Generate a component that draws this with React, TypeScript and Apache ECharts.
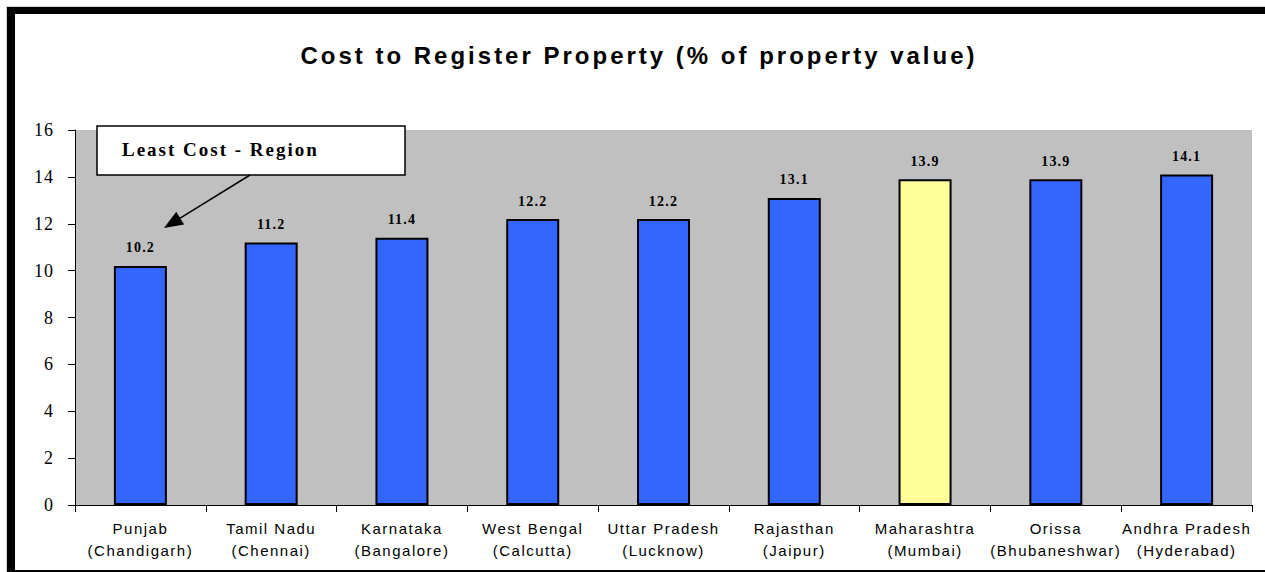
import React, { useEffect, useRef } from "react";
import * as echarts from "echarts";

const states = [
  "Punjab",
  "Tamil Nadu",
  "Karnataka",
  "West Bengal",
  "Uttar Pradesh",
  "Rajasthan",
  "Maharashtra",
  "Orissa",
  "Andhra Pradesh",
];
const cities = [
  "(Chandigarh)",
  "(Chennai)",
  "(Bangalore)",
  "(Calcutta)",
  "(Lucknow)",
  "(Jaipur)",
  "(Mumbai)",
  "(Bhubaneshwar)",
  "(Hyderabad)",
];
const costValues = [10.2, 11.2, 11.4, 12.2, 12.2, 13.1, 13.9, 13.9, 14.1];
const highlighted = ["Maharashtra"];

const TITLE = "Cost to Register Property (% of property value)";
const NOTE = "Least Cost - Region";

const SERIF = "'Liberation Serif', 'Times New Roman', serif";
const SANS = "'Liberation Sans', Arial, sans-serif";

const css = `
#chart-root text[style*="24px"] { letter-spacing: 3px; }
#chart-root text[style*="15px"] { letter-spacing: 1.5px; }
#chart-root text[style*="19px"] { letter-spacing: 2px; }
#chart-root text[style*="18px"] { letter-spacing: 1px; }
#chart-root text[style*="14px"] { letter-spacing: 1.2px; }
`;

export default function App() {
  const ref = useRef<HTMLDivElement>(null);

  useEffect(() => {
    if (!ref.current) return;
    const chart = echarts.init(ref.current, null, { renderer: "svg" });
    const categories = states.map((s, i) => `${s}\n${cities[i]}`);
    const data = costValues.map((v, i) => ({
      value: v,
      itemStyle: {
        color: highlighted.includes(states[i]) ? "#FFFF99" : "#3366FF",
      },
    }));

    // arrow geometry for the annotation
    const from = [250, 175];
    const tip = [164, 228];
    const dx = tip[0] - from[0];
    const dy = tip[1] - from[1];
    const len = Math.sqrt(dx * dx + dy * dy);
    const ux = dx / len;
    const uy = dy / len;
    const headLen = 19;
    const headHalf = 7.5;
    const bx = tip[0] - ux * headLen;
    const by = tip[1] - uy * headLen;
    const px = -uy;
    const py = ux;

    chart.setOption({
      animation: false,
      backgroundColor: "transparent",
      grid: {
        left: 75,
        top: 130,
        right: 13,
        bottom: 67,
        show: true,
        backgroundColor: "#C0C0C0",
        borderWidth: 0,
      },
      xAxis: {
        type: "category",
        data: categories,
        axisLine: { show: true, lineStyle: { color: "#000", width: 1 } },
        axisTick: { show: true, length: 7, lineStyle: { color: "#000" } },
        axisLabel: {
          interval: 0,
          margin: 12,
          color: "#000",
          fontFamily: SANS,
          fontSize: 15,
          lineHeight: 22,
        },
        splitLine: { show: false },
      },
      yAxis: {
        type: "value",
        min: 0,
        max: 16,
        interval: 2,
        axisLine: { show: true, lineStyle: { color: "#000", width: 1 } },
        axisTick: { show: true, length: 7, lineStyle: { color: "#000" } },
        axisLabel: {
          margin: 21,
          color: "#000",
          fontFamily: SERIF,
          fontSize: 18,
        },
        splitLine: { show: false },
      },
      series: [
        {
          type: "bar",
          data,
          barWidth: 53,
          itemStyle: { borderColor: "#000", borderWidth: 2 },
          label: {
            show: true,
            position: "top",
            distance: 11,
            color: "#000",
            fontFamily: SERIF,
            fontWeight: "bold",
            fontSize: 14,
            formatter: (p: any) => Number(p.value).toFixed(1),
          },
        },
      ],
      graphic: [
        {
          type: "text",
          x: 639,
          y: 55,
          z: 100,
          style: {
            text: TITLE,
            fill: "#000",
            font: `bold 24px ${SANS}`,
            textAlign: "center",
            textVerticalAlign: "middle",
          },
        },
        {
          type: "rect",
          z: 100,
          shape: { x: 97, y: 126, width: 308, height: 49 },
          style: { fill: "#fff", stroke: "#000", lineWidth: 1.5 },
        },
        {
          type: "text",
          x: 122,
          y: 149,
          z: 101,
          style: {
            text: NOTE,
            fill: "#000",
            font: `bold 19px ${SERIF}`,
            textAlign: "left",
            textVerticalAlign: "middle",
          },
        },
        {
          type: "line",
          z: 100,
          shape: { x1: from[0], y1: from[1], x2: bx, y2: by },
          style: { stroke: "#000", lineWidth: 1.5 },
        },
        {
          type: "polygon",
          z: 100,
          shape: {
            points: [
              [tip[0], tip[1]],
              [bx + px * headHalf, by + py * headHalf],
              [bx - px * headHalf, by - py * headHalf],
            ],
          },
          style: { fill: "#000" },
        },
      ],
    });
    return () => chart.dispose();
  }, []);

  return (
    <div
      id="chart-root"
      style={{
        position: "absolute",
        left: 0,
        top: 0,
        width: 1265,
        height: 572,
        background: "#fff",
        overflow: "hidden",
      }}
    >
      <style>{css}</style>
      <div
        style={{
          position: "absolute",
          left: 6,
          top: 6,
          width: 1270,
          height: 570,
          borderLeft: "1px solid #d4d4d4",
          borderTop: "1px solid #d4d4d4",
        }}
      />
      <div
        style={{
          position: "absolute",
          left: 7,
          top: 7,
          width: 1258,
          height: 565,
          background: "#000",
        }}
      />
      <div
        style={{
          position: "absolute",
          left: 15,
          top: 14,
          width: 1250,
          height: 556,
          background: "#fff",
        }}
      />
      <div
        ref={ref}
        style={{ position: "absolute", left: 0, top: 0, width: 1265, height: 572 }}
      />
    </div>
  );
}
